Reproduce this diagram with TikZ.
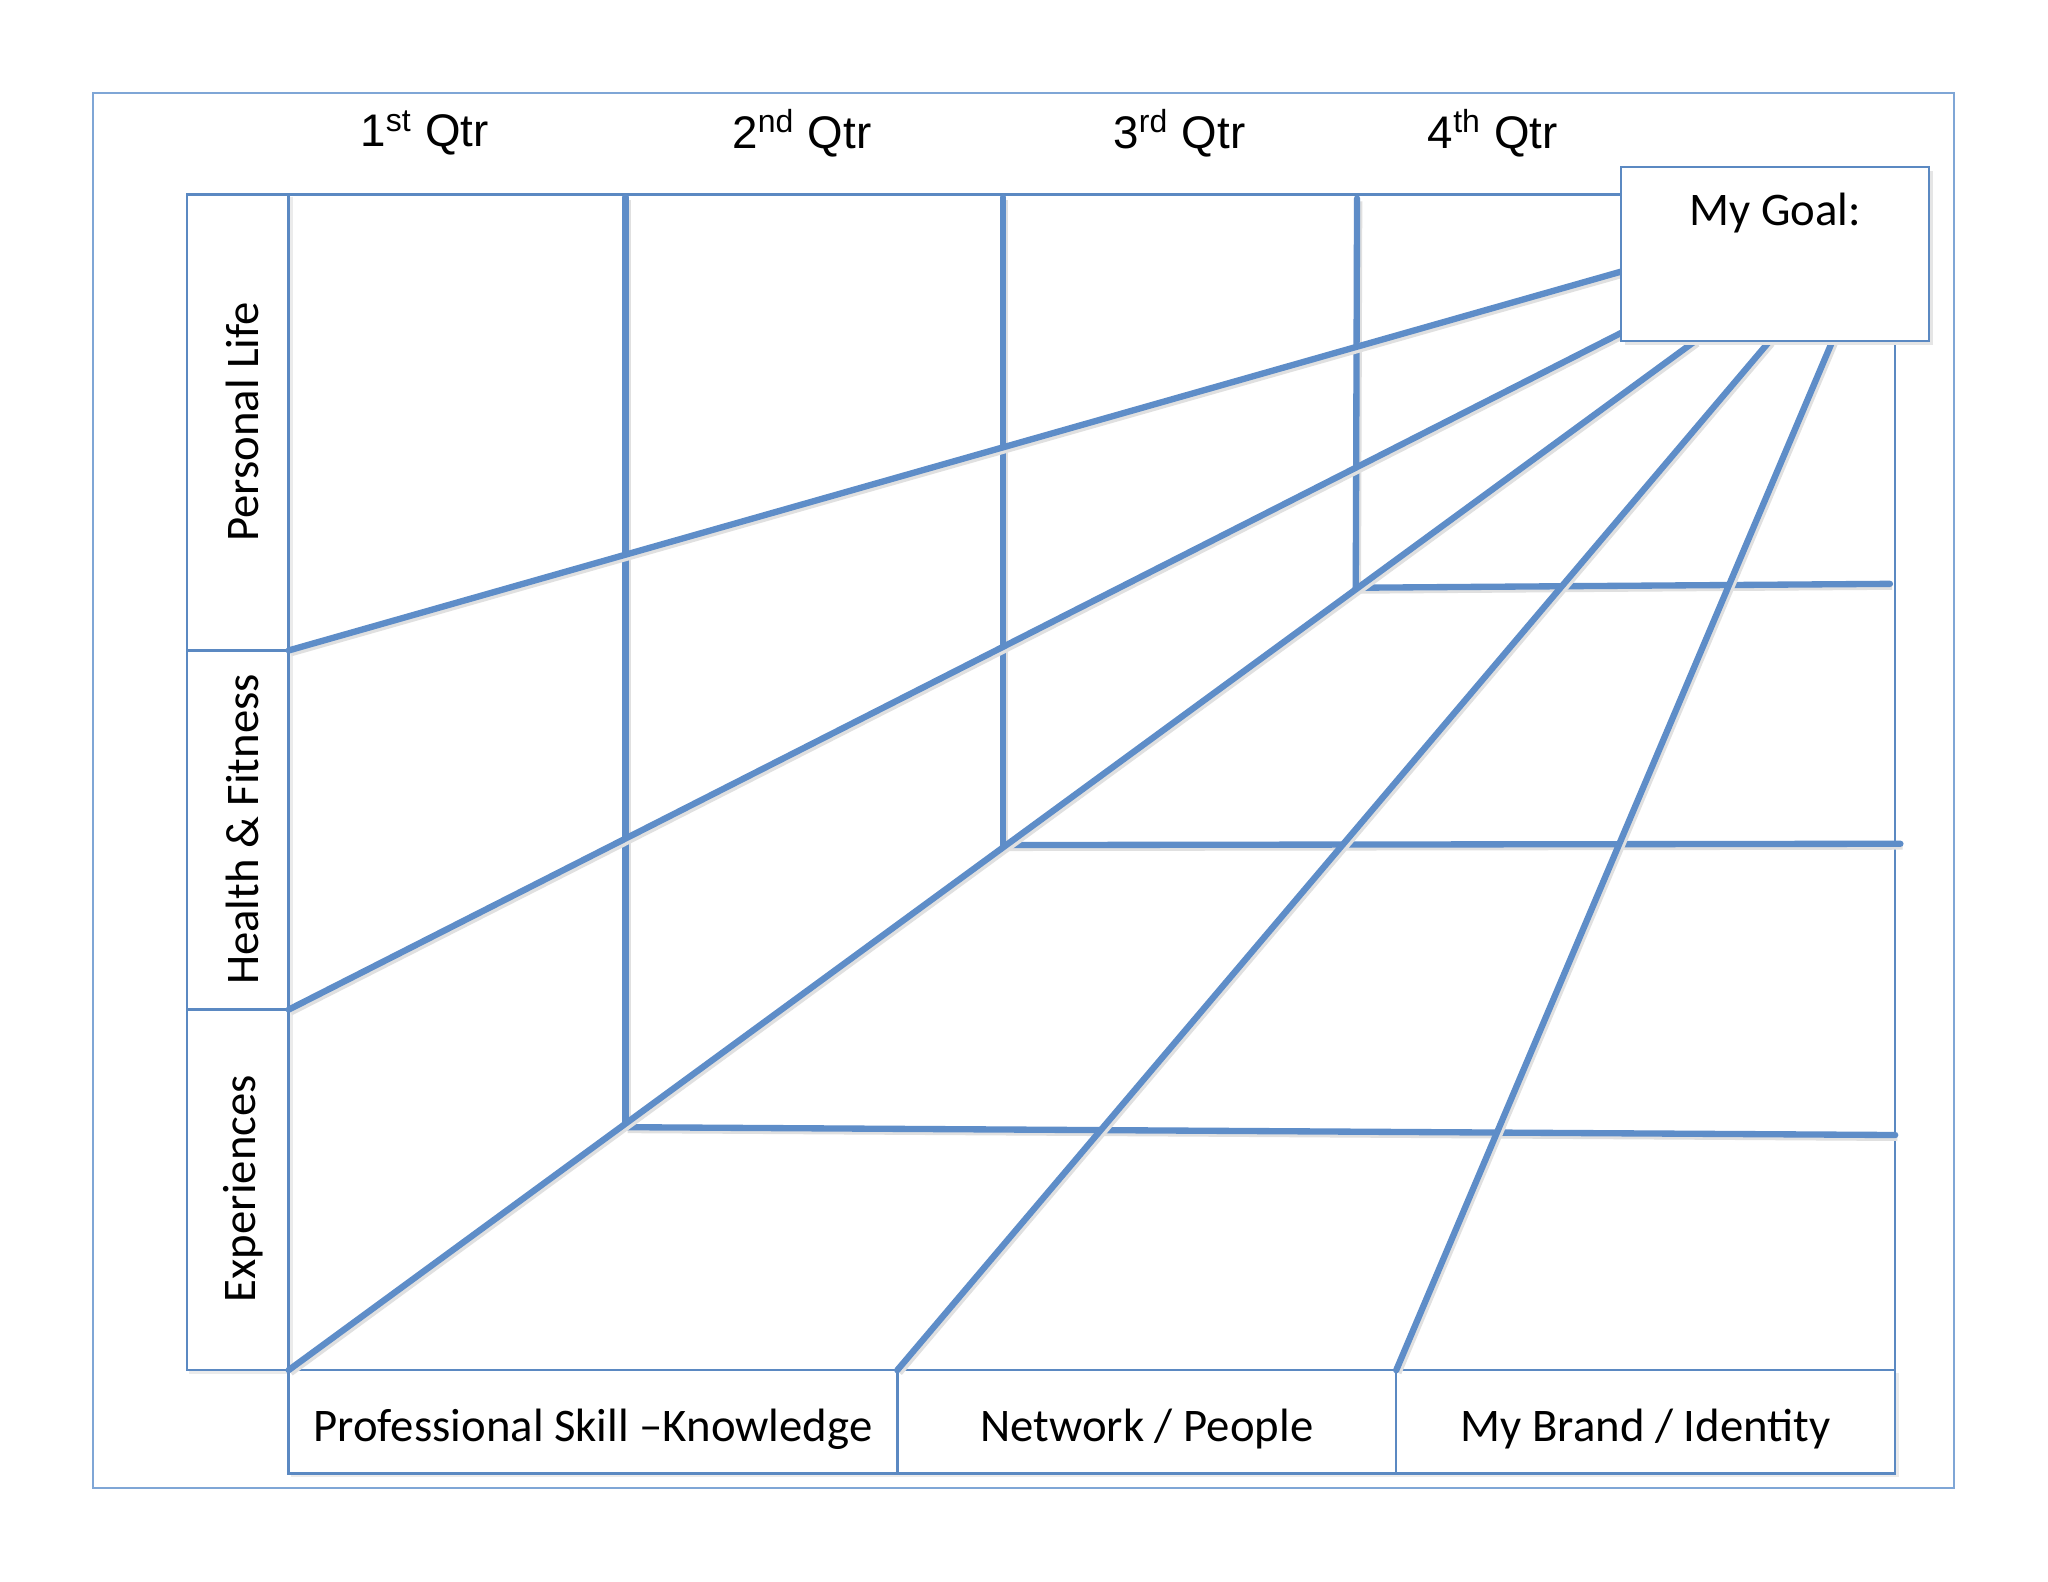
\documentclass[tikz,border=0pt]{standalone}
\usepackage{fontspec}
\setmainfont{Carlito}
\newfontfamily\arialf{Liberation Sans}
\definecolor{frameblue}{HTML}{7FA6D6}
\definecolor{boxblue}{HTML}{5B89C2}
\definecolor{lineblue}{HTML}{5E8DC8}
\tikzset{
  boxline/.style={draw=boxblue, line width=0.7pt},
  thickline/.style={draw=lineblue, line width=1.8pt, line cap=round,
     preaction={draw=black!12, line width=1.8pt, transform canvas={shift={(0.6pt,-0.8pt)}}}},
  qtr/.style={font=\arialf\fontsize{13}{15}\selectfont, anchor=center},
  lbl/.style={font=\fontsize{13.3}{16}\selectfont, anchor=center}
}
\begin{document}
\begin{tikzpicture}[x=0.013061cm, y=-0.013061cm]
\useasboundingbox[fill=white] (0,0) rectangle (1568,1211);
% outer frame
\draw[draw=frameblue, line width=0.6pt] (71,71) rectangle (1496,1139);

% shadows of boxes
\fill[black!8] (145,151) rectangle (224,1052);
\fill[black!8] (223,1051) rectangle (1454,1131);

% left label column
\draw[boxline, fill=white] (143,149) rectangle (221,498);
\draw[boxline, fill=white] (143,498) rectangle (221,773);
\draw[boxline, fill=white] (143,773) rectangle (221,1049);
\node[lbl, rotate=90] (pl) at (186,323) {Personal Life};
\node[lbl, rotate=90] (hf) at (186,635) {Health \& Fitness};
\node[lbl, rotate=90] (ex) at (186,910) {Experiences};

% bottom label row
\draw[boxline, fill=white] (221,1049) rectangle (687,1128);
\draw[boxline, fill=white] (687,1049) rectangle (1069,1128);
\draw[boxline, fill=white] (1069,1049) rectangle (1451,1128);
\node[lbl] (psk) at (454,1094) {Professional Skill –Knowledge};
\node[lbl] (np) at (878,1094) {Network / People};
\node[lbl] (mb) at (1260,1094) {My Brand / Identity};

% grid area
\draw[boxline] (221,149) rectangle (1451,1049);

% named points
\coordinate (a1) at (221,498);
\coordinate (a2) at (221,773);
\coordinate (a3) at (221,1049);
\coordinate (a4) at (687,1049);
\coordinate (a5) at (1069,1049);
\coordinate (g1) at (1241,208);
\coordinate (g2) at (1241,255);
\coordinate (g3) at (1298,261);
\coordinate (g4) at (1355,261);
\coordinate (g5) at (1403,261);
\coordinate (v1t) at (479,151);
\coordinate (v1b) at (479,863);
\coordinate (v2t) at (768,151);
\coordinate (v2b) at (768,647);
\coordinate (v3t) at (1039,152);
\coordinate (v3b) at (1038,450);
\coordinate (h1e) at (1451,869);
\coordinate (h2e) at (1455,646);
\coordinate (h3e) at (1447,447);

% thick lines
\draw[thickline] (v1t) -- (v1b);
\draw[thickline] (v2t) -- (v2b);
\draw[thickline] (v3t) -- (v3b);
\draw[thickline] (v1b) -- (h1e);
\draw[thickline] (v2b) -- (h2e);
\draw[thickline] (v3b) -- (h3e);
\draw[thickline] (a1) -- (g1);
\draw[thickline] (a2) -- (g2);
\draw[thickline] (a3) -- (g3);
\draw[thickline] (a4) -- (g4);
\draw[thickline] (a5) -- (g5);

% goal box
\fill[black!10] (1244,131) rectangle (1480,264);
\draw[boxline, fill=white] (1241,128) rectangle (1477,261);
\node[lbl] (goal) at (1359,163) {My Goal:};

% quarter headers
\node[qtr] (q1) at (325,102) {1\textsuperscript{st} Qtr};
\node[qtr] (q2) at (614,102) {2\textsuperscript{nd} Qtr};
\node[qtr] (q3) at (903,102) {3\textsuperscript{rd} Qtr};
\node[qtr] (q4) at (1143,102) {4\textsuperscript{th} Qtr};
\end{tikzpicture}
\end{document}
